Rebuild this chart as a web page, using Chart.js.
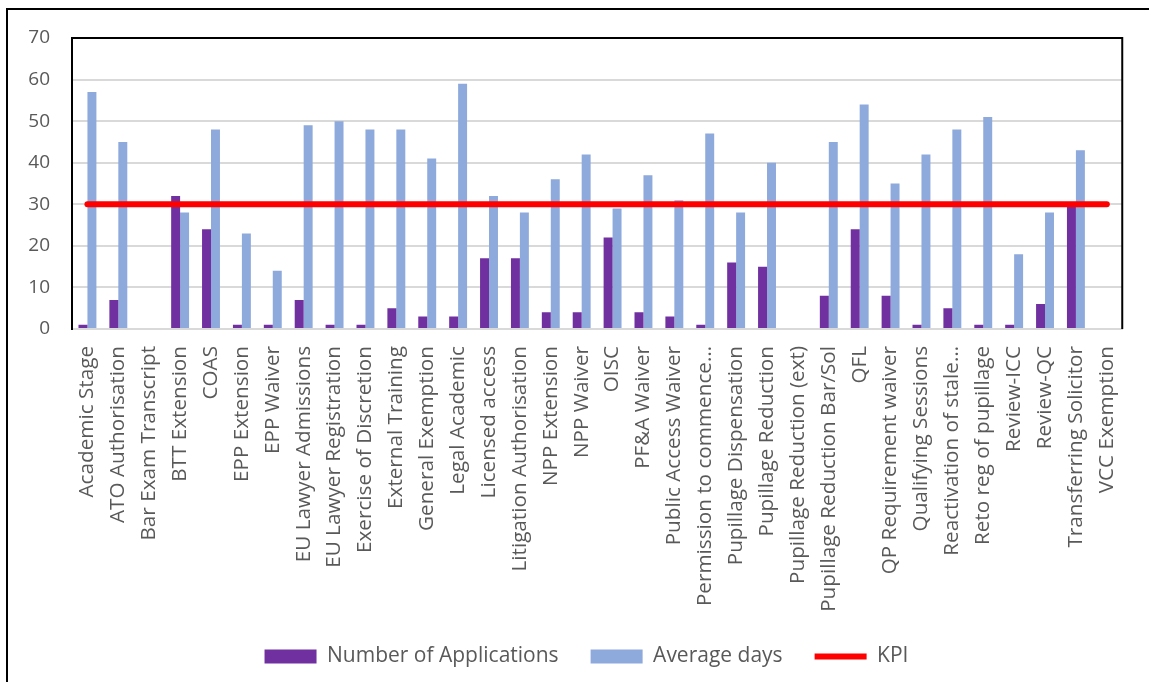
<!DOCTYPE html>
<html>
<head>
<meta charset="utf-8">
<script src="https://cdn.jsdelivr.net/npm/chart.js@4.4.1/dist/chart.umd.min.js"></script>
<style>
  html, body { margin: 0; padding: 0; background: #ffffff; overflow: hidden; }
  #wrap { position: relative; width: 1149px; height: 682px; }
</style>
</head>
<body>
<div id="wrap"><canvas id="c" width="1149" height="682"></canvas></div>
<script>
// Application types
const categories = [
  'Academic Stage', 'ATO Authorisation', 'Bar Exam Transcript', 'BTT Extension', 'COAS',
  'EPP Extension', 'EPP Waiver', 'EU Lawyer Admissions', 'EU Lawyer Registration',
  'Exercise of Discretion', 'External Training', 'General Exemption', 'Legal Academic',
  'Licensed access', 'Litigation Authorisation', 'NPP Extension', 'NPP Waiver', 'OISC',
  'PF&A Waiver', 'Public Access Waiver', 'Permission to commence\u2026', 'Pupillage Dispensation',
  'Pupillage Reduction', 'Pupillage Reduction (ext)', 'Pupillage Reduction Bar/Sol', 'QFL',
  'QP Requirement waiver', 'Qualifying Sessions', 'Reactivation of stale\u2026', 'Reto reg of pupillage',
  'Review-ICC', 'Review-QC', 'Transferring Solicitor', 'VCC Exemption'
];

// Number of applications per type
const applications = [
  1, 7, 0, 32, 24, 1, 1, 7, 1, 1, 5, 3, 3, 17, 17, 4, 4, 22,
  4, 3, 1, 16, 15, 0, 8, 24, 8, 1, 5, 1, 1, 6, 30, 0
];

// Average days to decision per type
const averageDays = [
  57, 45, 0, 28, 48, 23, 14, 49, 50, 48, 48, 41, 59, 32, 28, 36, 42, 29,
  37, 31, 47, 28, 40, 0, 45, 54, 35, 42, 48, 51, 18, 28, 43, 0
];

// KPI target (days)
const kpi = [
  30, 30, 30, 30, 30, 30, 30, 30, 30, 30, 30, 30, 30, 30, 30, 30, 30,
  30, 30, 30, 30, 30, 30, 30, 30, 30, 30, 30, 30, 30, 30, 30, 30, 30
];

// Value axis ticks
const yTickValues = [0, 10, 20, 30, 40, 50, 60, 70];

const TEXT = '#595959';
const FONT = "'Open Sans', 'DejaVu Sans', sans-serif";

// Outer frame, plot-area outline and a fixed-height legend strip
const framePlugin = {
  id: 'frame',
  afterInit(chart) {
    const legend = chart.legend;
    if (legend) {
      const fit = legend.fit.bind(legend);
      legend.fit = function () {
        fit();
        this.height = 68;
      };
    }
  },
  afterLayout(chart) {
    // centre the legend row on the outer frame rather than the canvas
    const legend = chart.legend;
    if (legend) {
      legend.left += 24;
      legend.right += 24;
    }
  },
  beforeDraw(chart) {
    const ctx = chart.ctx;
    ctx.save();
    ctx.fillStyle = '#ffffff';
    ctx.fillRect(0, 0, chart.width, chart.height);
    ctx.strokeStyle = '#000000';
    ctx.lineWidth = 2;
    ctx.beginPath();
    ctx.moveTo(7, chart.height + 5);
    ctx.lineTo(7, 9);
    ctx.lineTo(chart.width + 5, 9);
    ctx.stroke();
    ctx.restore();
  },
  afterDraw(chart) {
    const a = chart.chartArea;
    const ctx = chart.ctx;
    ctx.save();
    ctx.strokeStyle = '#000000';
    ctx.lineWidth = 2;
    ctx.beginPath();
    ctx.moveTo(a.left, a.bottom);
    ctx.lineTo(a.left, a.top);
    ctx.lineTo(a.right, a.top);
    ctx.lineTo(a.right, a.bottom);
    ctx.stroke();
    ctx.restore();
  }
};

new Chart(document.getElementById('c'), {
  type: 'bar',
  data: {
    labels: categories,
    datasets: [
      {
        label: 'Number of Applications',
        data: applications,
        backgroundColor: '#7030A0',
        borderWidth: 0,
        order: 1,
        pointStyle: 'rect'
      },
      {
        label: 'Average days',
        data: averageDays,
        backgroundColor: '#8EA9DB',
        borderWidth: 0,
        order: 1,
        pointStyle: 'rect'
      },
      {
        type: 'line',
        label: 'KPI',
        data: kpi,
        borderColor: '#FF0000',
        backgroundColor: '#FF0000',
        borderWidth: 6,
        borderCapStyle: 'round',
        pointRadius: 0,
        pointHoverRadius: 0,
        fill: false,
        order: 0,
        pointStyle: 'line'
      }
    ]
  },
  options: {
    responsive: false,
    devicePixelRatio: 1,
    animation: false,
    categoryPercentage: 0.58,
    barPercentage: 1.0,
    layout: { padding: { top: 38, right: 24, bottom: 0, left: 0 } },
    plugins: {
      title: { display: false },
      tooltip: { enabled: false },
      legend: {
        display: true,
        position: 'bottom',
        labels: {
          usePointStyle: true,
          pointStyleWidth: 52,
          boxWidth: 52,
          boxHeight: 14,
          padding: 32,
          color: TEXT,
          font: { family: FONT, size: 21 },
          sort: (a, b) => a.datasetIndex - b.datasetIndex
        }
      }
    },
    scales: {
      x: {
        grid: { display: false, drawTicks: false },
        border: { display: true, color: '#D9D9D9', width: 2 },
        ticks: {
          autoSkip: false,
          maxRotation: 90,
          minRotation: 90,
          padding: 17,
          color: TEXT,
          font: { family: FONT, size: 20.7 }
        },
        afterFit(scale) { scale.height = 285; }
      },
      y: {
        min: 0,
        max: 70,
        afterBuildTicks(scale) { scale.ticks = yTickValues.map(v => ({ value: v })); },
        grid: { color: '#D9D9D9', lineWidth: 2, drawTicks: false },
        border: { display: true, color: '#000000', width: 2 },
        ticks: {
          padding: 22,
          color: TEXT,
          font: { family: FONT, size: 19 }
        },
        afterFit(scale) { scale.width = 72; }
      }
    }
  },
  plugins: [framePlugin]
});
</script>
</body>
</html>
